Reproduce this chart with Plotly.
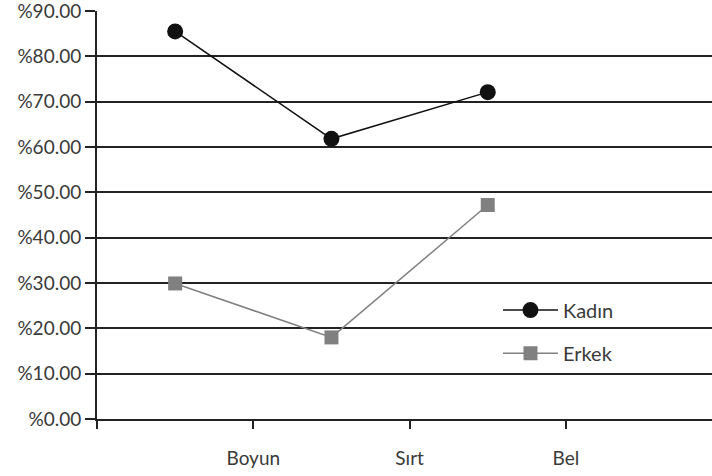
import plotly.graph_objects as go

categories = ["Boyun", "Sırt", "Bel"]
kadin = [85.5, 61.8, 72.1]
erkek = [29.9, 18.0, 47.2]
y_ticks = [0, 10, 20, 30, 40, 50, 60, 70, 80, 90]
y_tick_labels = ["%{:.2f}".format(v) for v in y_ticks]

# points sit midway between category ticks (as in the source chart)
x_pts = [i + 0.5 for i in range(len(categories))]
x_ticks = list(range(len(categories) + 1))
x_tick_labels = [""] + categories

fig = go.Figure()
fig.add_trace(go.Scatter(
    x=x_pts, y=kadin, name="Kadın", mode="lines+markers",
    line=dict(color="#111111", width=1.5),
    marker=dict(symbol="circle", size=16, color="#111111"),
    legend="legend",
))
fig.add_trace(go.Scatter(
    x=x_pts, y=erkek, name="Erkek", mode="lines+markers",
    line=dict(color="#808080", width=1.5),
    marker=dict(symbol="square", size=14, color="#808080"),
    legend="legend2",
))

font = dict(family="Lato, Open Sans, sans-serif", size=19, color="#3a3a3a")
leg_font = dict(family="Lato, Open Sans, sans-serif", size=20, color="#3a3a3a")
fig.update_layout(
    width=712, height=476,
    margin=dict(l=97, r=0, t=11, b=57),
    paper_bgcolor="white", plot_bgcolor="white",
    font=font,
    showlegend=True,
    legend=dict(x=0.652, y=0.267, xanchor="left", yanchor="middle",
                bgcolor="rgba(0,0,0,0)", font=leg_font, itemwidth=55),
    legend2=dict(x=0.652, y=0.161, xanchor="left", yanchor="middle",
                 bgcolor="rgba(0,0,0,0)", font=leg_font, itemwidth=55),
)
fig.update_xaxes(
    range=[0, 615 / 156.3], tickvals=x_ticks, ticktext=x_tick_labels,
    showgrid=False, zeroline=False, automargin=False,
    showline=True, linecolor="#222222", linewidth=2,
    ticks="outside", ticklen=8, tickwidth=1.5, tickcolor="#222222",
    tickfont=font, ticklabelstandoff=13, ticklabeloverflow="allow",
)
fig.update_yaxes(
    range=[0, 90], tickvals=y_ticks, ticktext=y_tick_labels,
    showgrid=True, gridcolor="#222222", gridwidth=2,
    zeroline=False, automargin=False,
    showline=True, linecolor="#222222", linewidth=2,
    ticks="outside", ticklen=10, tickwidth=1.5, tickcolor="#222222",
    tickfont=font, ticklabeloverflow="allow",
)
fig.write_html(
    "out.html",
    config={"displayModeBar": False},
    post_script="document.body.style.margin='0';",
)
